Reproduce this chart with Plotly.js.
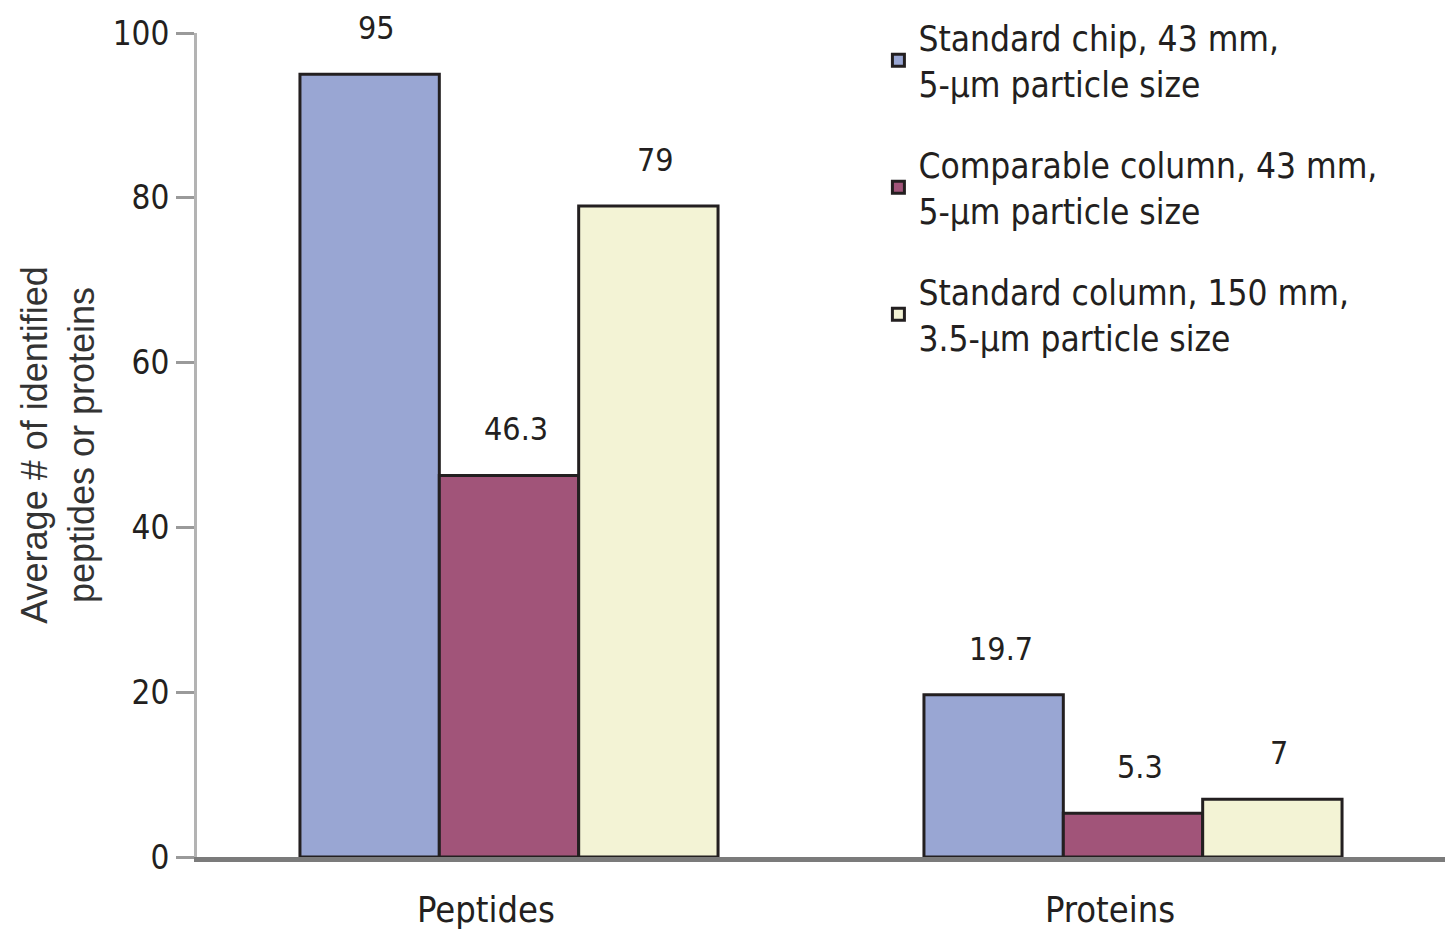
<!DOCTYPE html>
<html>
<head>
<meta charset="utf-8">
<script src="https://cdn.plot.ly/plotly-3.0.1.min.js"></script>
<style>html,body{margin:0;padding:0;background:#fff;}#chart{width:1445px;height:930px;}</style>
</head>
<body>
<div id="chart"></div>
<script>
// ---- data ----
const categories = ["Peptides", "Proteins"];
const seriesNames = [
  "Standard chip, 43 mm,<br>5-\u00b5m particle size",
  "Comparable column, 43 mm,<br>5-\u00b5m particle size",
  "Standard column, 150 mm,<br>3.5-\u00b5m particle size"
];
const standardChip = [95, 19.7];
const comparableColumn = [46.3, 5.3];
const standardColumn = [79, 7];
const valueLabels = [["95", "19.7"], ["46.3", "5.3"], ["79", "7"]];
const yTickVals = [0, 20, 40, 60, 80, 100];

// ---- style ----
const colors = ["#99a6d3", "#a15479", "#f3f3d5"];
const narrow = '"Liberation Sans Narrow", "Arial Narrow", "DejaVu Sans Condensed", sans-serif';
const ink = "#231f20";
const seriesValues = [standardChip, comparableColumn, standardColumn];

const traces = seriesValues.map((vals, i) => ({
  type: "bar",
  name: seriesNames[i],
  x: categories,
  y: vals,
  legendgroup: "g" + i,
  marker: { color: colors[i], line: { color: ink, width: 3 } },
  hoverinfo: "skip"
}));

const plotW = 1445 - 197;
const bargap = 0.33;
const barPx = (plotW / categories.length) * (1 - bargap) / 3;

const annotations = [];
seriesValues.forEach((vals, i) => {
  vals.forEach((v, j) => {
    annotations.push({
      xref: "x", yref: "y",
      x: categories[j], y: v,
      text: valueLabels[i][j],
      showarrow: false,
      xanchor: "center", yanchor: "bottom",
      xshift: (i - 1) * barPx + 7,
      yshift: 25,
      font: { family: narrow, size: 32, color: ink }
    });
  });
});

const layout = {
  width: 1445, height: 930,
  margin: { l: 197, r: 0, t: 33, b: 73, autoexpand: false },
  paper_bgcolor: "#ffffff",
  plot_bgcolor: "#ffffff",
  barmode: "group",
  bargap: bargap,
  bargroupgap: 0,
  font: { family: narrow, color: ink },
  showlegend: true,
  legend: {
    x: 0.546, y: 1.03, xanchor: "left", yanchor: "top",
    traceorder: "grouped", tracegroupgap: 33,
    font: { family: narrow, size: 35, color: ink },
    bgcolor: "rgba(0,0,0,0)"
  },
  xaxis: {
    type: "category",
    showline: true, linecolor: "#7b7b7b", linewidth: 5,
    ticks: "", showgrid: false, zeroline: false,
    tickfont: { family: narrow, size: 36, color: ink },
    ticklabelstandoff: 17,
    ticklabelshift: -23,
    automargin: false
  },
  yaxis: {
    range: [0, 100],
    tickvals: yTickVals,
    ticktext: yTickVals.map(String),
    showline: true, linecolor: "#b3b3b3", linewidth: 3,
    ticks: "outside", ticklen: 18, tickwidth: 3, tickcolor: "#9a9a9a",
    showgrid: false, zeroline: false,
    tickfont: { family: narrow, size: 33, color: ink },
    automargin: false,
    title: {
      text: "Average # of identified<br>peptides or proteins",
      font: { family: '"Liberation Sans", Arial, sans-serif', size: 36, color: "#333333" },
      standoff: 8
    }
  },
  annotations: annotations
};

Plotly.newPlot("chart", traces, layout, { displayModeBar: false, staticPlot: true });
</script>
</body>
</html>
